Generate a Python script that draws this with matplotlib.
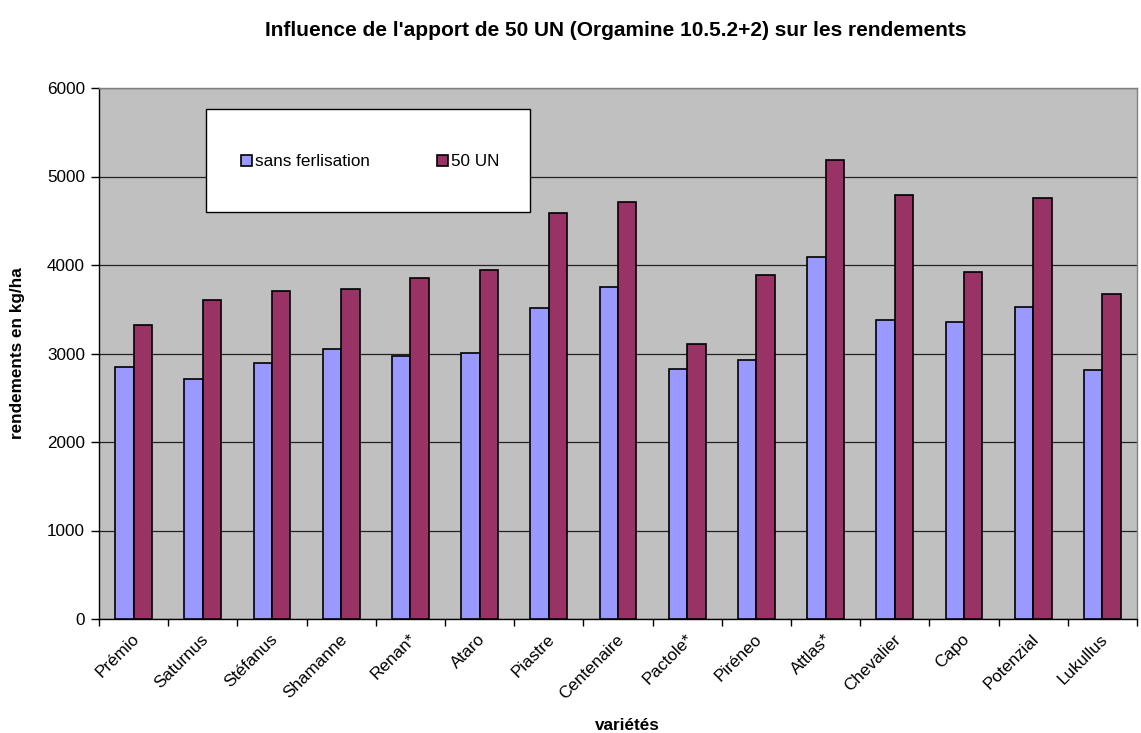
import matplotlib
matplotlib.use("Agg")
import matplotlib.pyplot as plt
import matplotlib.transforms as mtransforms
import numpy as np
from matplotlib.patches import Rectangle

plt.rcParams['font.family'] = ['Liberation Sans', 'DejaVu Sans']

varietes = ["Prémio", "Saturnus", "Stéfanus", "Shamanne", "Renan*", "Ataro",
            "Piastre", "Centenaire", "Pactole*", "Piréneo", "Attlas*", "Chevalier",
            "Capo", "Potenzial", "Lukullus"]
sans_fert = [2853, 2717, 2890, 3049, 2970, 3008, 3513, 3747, 2830, 2921, 4091, 3381, 3351, 3521, 2815]
un50 = [3320, 3608, 3710, 3725, 3849, 3940, 4582, 4710, 3102, 3883, 5186, 4789, 3917, 4752, 3676]
series_names = ["sans ferlisation", "50 UN"]
yticks = [0, 1000, 2000, 3000, 4000, 5000, 6000]

FS = 12.3

fig = plt.figure(figsize=(11.41, 7.33), dpi=100)
ax = fig.add_axes([99/1141, 1-619/733, (1137-99)/1141, (619-88)/733])
ax.set_facecolor('#C0C0C0')

x = np.arange(len(varietes))
w = 0.265
b1 = ax.bar(x - w/2, sans_fert, w, color='#9999FF', edgecolor='black', linewidth=1.2, label=series_names[0], zorder=3)
b2 = ax.bar(x + w/2, un50, w, color='#993366', edgecolor='black', linewidth=1.2, label=series_names[1], zorder=3)

ax.set_xlim(-0.5, len(varietes) - 0.5)
ax.set_ylim(0, 6000)
ax.set_yticks(yticks)
ax.set_yticklabels([str(t) for t in yticks], fontsize=FS)
ax.yaxis.grid(True, color='#222222', linewidth=0.9, zorder=0)
ax.set_axisbelow(True)

ax.set_xticks(np.arange(len(varietes) + 1) - 0.5, minor=False)
ax.set_xticklabels([])
ax.set_xticks(x, minor=True)
ax.set_xticklabels(varietes, minor=True, rotation=45, ha='right', rotation_mode='anchor', fontsize=FS)
ax.tick_params(axis='x', which='minor', length=0, pad=9)
ax.tick_params(axis='x', which='major', length=5, width=1, direction='out')
ax.tick_params(axis='y', length=6, width=1, direction='out', pad=4)
offset = mtransforms.ScaledTranslation(-2/100, 0, fig.dpi_scale_trans)
for lbl in ax.get_xticklabels(minor=True):
    lbl.set_transform(lbl.get_transform() + offset)

for s in ['top', 'right']:
    ax.spines[s].set_color('#808080')
    ax.spines[s].set_linewidth(1)
for s in ['left', 'bottom']:
    ax.spines[s].set_color('black')
    ax.spines[s].set_linewidth(1)

fig.text(616/1141, 1-30/733, "Influence de l'apport de 50 UN (Orgamine 10.5.2+2) sur les rendements",
         fontsize=15, fontweight='bold', ha='center', va='center')
fig.text(18/1141, 1-353/733, "rendements en kg/ha", fontsize=FS, fontweight='bold',
         rotation=90, ha='center', va='center')
fig.text(627/1141, 1-726/733, "variétés", fontsize=FS, fontweight='bold', ha='center', va='center')

# legend box
fig.patches.append(Rectangle((206/1141, 1-212/733), (530-206)/1141, (212-109)/733,
                             transform=fig.transFigure, facecolor='white', edgecolor='black',
                             linewidth=1, zorder=5))
leg = fig.legend(handles=[b1, b2], loc='center', bbox_to_anchor=(370/1141, 1-162/733),
                 ncol=2, frameon=False, fontsize=FS, handlelength=0.65, handleheight=0.65,
                 handletextpad=0.2, columnspacing=3.9)
leg.set_zorder(6)

fig.savefig("out.png", dpi=100)
